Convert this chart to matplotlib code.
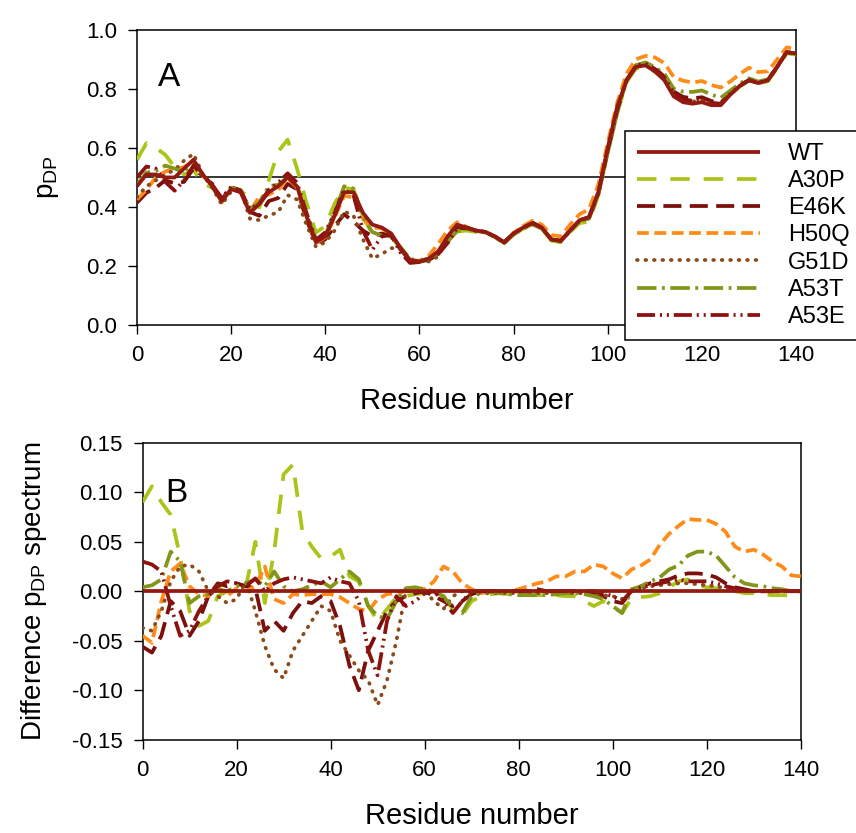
import matplotlib
matplotlib.use('Agg')
import matplotlib.pyplot as plt
import numpy as np

plt.rcParams['font.family'] = ['Liberation Sans', 'DejaVu Sans']
plt.rcParams['axes.unicode_minus'] = False
plt.rcParams['lines.scale_dashes'] = False

# residue grid (every 2nd residue)
res = np.arange(0, 141, 2)

# WT p_DP profile (panel A)
wt = [0.47, 0.51, 0.51, 0.50, 0.50, 0.53, 0.56, 0.51, 0.47, 0.42,
      0.46, 0.45, 0.38, 0.41, 0.45, 0.47, 0.50, 0.47, 0.37, 0.28,
      0.30, 0.37, 0.45, 0.45, 0.38, 0.34, 0.33, 0.31, 0.26, 0.22,
      0.215, 0.225, 0.25, 0.30, 0.34, 0.33, 0.32, 0.315, 0.30, 0.28,
      0.31, 0.33, 0.345, 0.33, 0.29, 0.285, 0.32, 0.355, 0.365, 0.45,
      0.60, 0.74, 0.83, 0.875, 0.88, 0.86, 0.83, 0.775, 0.755, 0.75,
      0.755, 0.745, 0.745, 0.78, 0.81, 0.83, 0.82, 0.83, 0.875, 0.925,
      0.92]

# difference spectra (mutant - WT), panel B
d_a30p = [0.09, 0.106, 0.09, 0.077, 0.035, -0.02, -0.035, -0.03, -0.005, 0.0,
          0.002, 0.005, 0.05, -0.012, 0.04, 0.118, 0.128, 0.06, 0.045, 0.033,
          0.035, 0.042, 0.015, 0.01, -0.015, -0.03, -0.018, -0.006, -0.005, -0.003,
          -0.002, -0.005, -0.005, -0.018, -0.024, -0.01, -0.005, -0.003, -0.002, -0.003,
          -0.003, -0.004, -0.004, -0.004, -0.004, -0.005, -0.005, -0.01, -0.015, -0.01,
          -0.016, -0.022, -0.007, -0.006, -0.005, -0.002, 0.004, 0.01, 0.012, 0.006,
          0.004, 0.003, 0.002, 0.0, -0.002, -0.002, -0.003, -0.004, -0.004, -0.004,
          -0.004]
d_e46k = [-0.056, -0.062, -0.045, -0.01, -0.02, -0.045, -0.03, -0.005, 0.008, 0.005,
          0.008, 0.005, 0.003, -0.04, -0.03, -0.04, -0.022, -0.01, -0.012, -0.005,
          -0.01, -0.035, -0.075, -0.1, -0.06, -0.04, -0.02, -0.01, -0.005, -0.002,
          0.0, -0.005, -0.01, -0.015, -0.01, -0.003, 0.0, 0.0, 0.0, 0.0,
          0.0, 0.0, 0.002, 0.0, 0.0, 0.0, 0.0, -0.002, -0.003, -0.005,
          -0.01, -0.012, 0.0, 0.005, 0.008, 0.01, 0.012, 0.016, 0.018, 0.018,
          0.017, 0.014, 0.008, 0.004, 0.002, 0.0, 0.0, 0.0, 0.0, 0.0,
          0.0]
d_h50q = [-0.045, -0.052, -0.01, 0.02, 0.028, 0.005, -0.003, -0.005, 0.005, -0.005,
          0.003, 0.0, 0.005, 0.025, -0.008, -0.012, -0.003, -0.004, -0.003, -0.003,
          -0.003, -0.006, -0.012, -0.018, -0.02, -0.008, -0.003, -0.002, 0.0, 0.0,
          0.002, 0.01, 0.025, 0.02, 0.008, 0.002, -0.002, 0.0, 0.0, 0.0,
          0.002, 0.005, 0.008, 0.01, 0.015, 0.015, 0.02, 0.02, 0.027, 0.025,
          0.018, 0.013, 0.022, 0.026, 0.032, 0.047, 0.058, 0.066, 0.073, 0.072,
          0.072, 0.068, 0.06, 0.045, 0.04, 0.042, 0.037, 0.03, 0.025, 0.016,
          0.015]
d_g51d = [-0.037, -0.04, -0.02, 0.01, 0.025, 0.027, 0.02, 0.0, -0.005, -0.012,
          -0.008, 0.01, -0.02, -0.055, -0.079, -0.088, -0.06, -0.045, -0.03, -0.015,
          -0.02, -0.05, -0.065, -0.08, -0.09, -0.115, -0.09, -0.05, 0.0, 0.0,
          0.0, -0.01, -0.018, -0.005, 0.0, -0.002, -0.002, -0.002, -0.002, -0.002,
          -0.002, -0.002, -0.002, -0.002, -0.002, -0.002, -0.002, -0.002, -0.003, -0.004,
          -0.005, -0.008, 0.0, 0.003, 0.005, 0.006, 0.007, 0.008, 0.008, 0.007,
          0.006, 0.005, 0.003, 0.002, 0.0, 0.0, 0.0, 0.0, 0.0, 0.0,
          0.0]
d_a53t = [0.004, 0.006, 0.012, 0.04, 0.03, -0.012, -0.005, -0.003, 0.002, 0.0,
          0.005, 0.008, 0.012, 0.005, 0.02, 0.005, 0.0, 0.002, 0.006, 0.01,
          0.004, 0.012, 0.02, 0.012, -0.015, -0.025, -0.028, -0.01, 0.003, 0.004,
          0.002, 0.0, -0.005, -0.018, -0.022, -0.005, -0.002, 0.0, -0.002, -0.003,
          -0.004, -0.004, -0.004, -0.004, -0.003, -0.002, -0.002, -0.003, -0.005, -0.008,
          -0.015, -0.022, 0.002, 0.005, 0.01, 0.014, 0.022, 0.026, 0.036, 0.04,
          0.04, 0.036, 0.025, 0.014, 0.008, 0.006, 0.005, 0.003, 0.002, 0.0,
          0.0]
d_a53e = [0.03, 0.027, 0.02, -0.015, -0.045, -0.04, -0.02, -0.005, 0.005, 0.01,
          0.008, 0.005, 0.013, 0.0, 0.008, 0.012, 0.014, 0.012, 0.01, 0.008,
          0.014, 0.01, 0.008, -0.01, -0.06, -0.085, -0.03, -0.005, -0.015, -0.01,
          -0.002, 0.0, -0.01, -0.022, -0.01, 0.0, 0.0, 0.0, 0.0, 0.0,
          0.0, 0.0, 0.0, 0.0, 0.0, 0.0, 0.0, 0.0, 0.0, -0.002,
          -0.005, -0.01, 0.0, 0.004, 0.006, 0.008, 0.01, 0.012, 0.01, 0.01,
          0.01, 0.008, 0.005, 0.003, 0.0, 0.0, 0.0, 0.0, 0.0, 0.0,
          0.0]

names = ['WT', 'A30P', 'E46K', 'H50Q', 'G51D', 'A53T', 'A53E']
diffs = [np.zeros(len(res)), d_a30p, d_e46k, d_h50q, d_g51d, d_a53t, d_a53e]
colors = ['#921a12', '#acc41a', '#7a0f0c', '#ff8c1a', '#8b4a1a', '#84951a', '#8c1210']
dashes = [None, (14, 10), (13, 6), (8.5, 4), (0.5, 5.6), (14, 4, 2, 4), (13, 3.5, 1.5, 3.5, 1.5, 3.5)]
zord = [9, 3, 4, 5, 6, 7, 8]

fig = plt.figure(figsize=(8.56, 8.33), dpi=100)
axA = fig.add_axes([0.160, 0.610, 0.770, 0.354])
axB = fig.add_axes([0.1665, 0.112, 0.769, 0.3565])

wt = np.array(wt)
lines = []
for name, d, c, ds, z in zip(names, diffs, colors, dashes, zord):
    d = np.array(d)
    kw = dict(color=c, lw=2.7, zorder=z, label=name)
    if ds is None:
        kw['solid_capstyle'] = 'butt'
    else:
        kw['dashes'] = ds
        kw['dash_capstyle'] = 'round' if name == 'G51D' else 'butt'
    l, = axA.plot(res, wt + d, **kw)
    axB.plot(res, d, **kw)
    lines.append(l)

axA.axhline(0.5, color='black', lw=1.1, zorder=1)

for ax in (axA, axB):
    ax.set_xlim(0, 140)
    ax.set_xticks(np.arange(0, 141, 20))
    ax.tick_params(direction='out', length=6.5, width=1, labelsize=16,
                   top=False, right=False)
    ax.tick_params(axis='x', pad=8)
    ax.tick_params(axis='y', pad=8)
    for s in ax.spines.values():
        s.set_linewidth(1.1)
    ax.set_xlabel('Residue number', fontsize=21, labelpad=15)

axA.set_ylim(0, 1.0)
axA.set_yticks(np.arange(0, 1.01, 0.2))
axA.set_yticklabels(['%.1f' % v for v in np.arange(0, 1.01, 0.2)])
axA.set_ylabel('p$_\\mathregular{DP}$', fontsize=20, labelpad=18)
axA.text(4.5, 0.81, 'A', fontsize=24)

axB.set_ylim(-0.15, 0.15)
yb = np.arange(-0.15, 0.151, 0.05)
axB.set_yticks(yb)
axB.set_yticklabels(['%.2f' % (v + 0.0) for v in np.round(yb, 2)])
axB.set_ylabel('Difference p$_\\mathregular{DP}$ spectrum', fontsize=20, labelpad=16)
axB.text(4.8, 0.09, 'B', fontsize=24)

leg = fig.legend(handles=lines, loc='upper left', bbox_to_anchor=(625 / 856, 1 - 131 / 833),
                 fontsize=17, frameon=True, fancybox=False, framealpha=1,
                 edgecolor='black', handlelength=5.2, handletextpad=1.2,
                 borderpad=0.5, labelspacing=0.22, borderaxespad=0)
leg.get_frame().set_linewidth(1.1)
leg.set_zorder(20)

plt.savefig('out.png', dpi=100)
